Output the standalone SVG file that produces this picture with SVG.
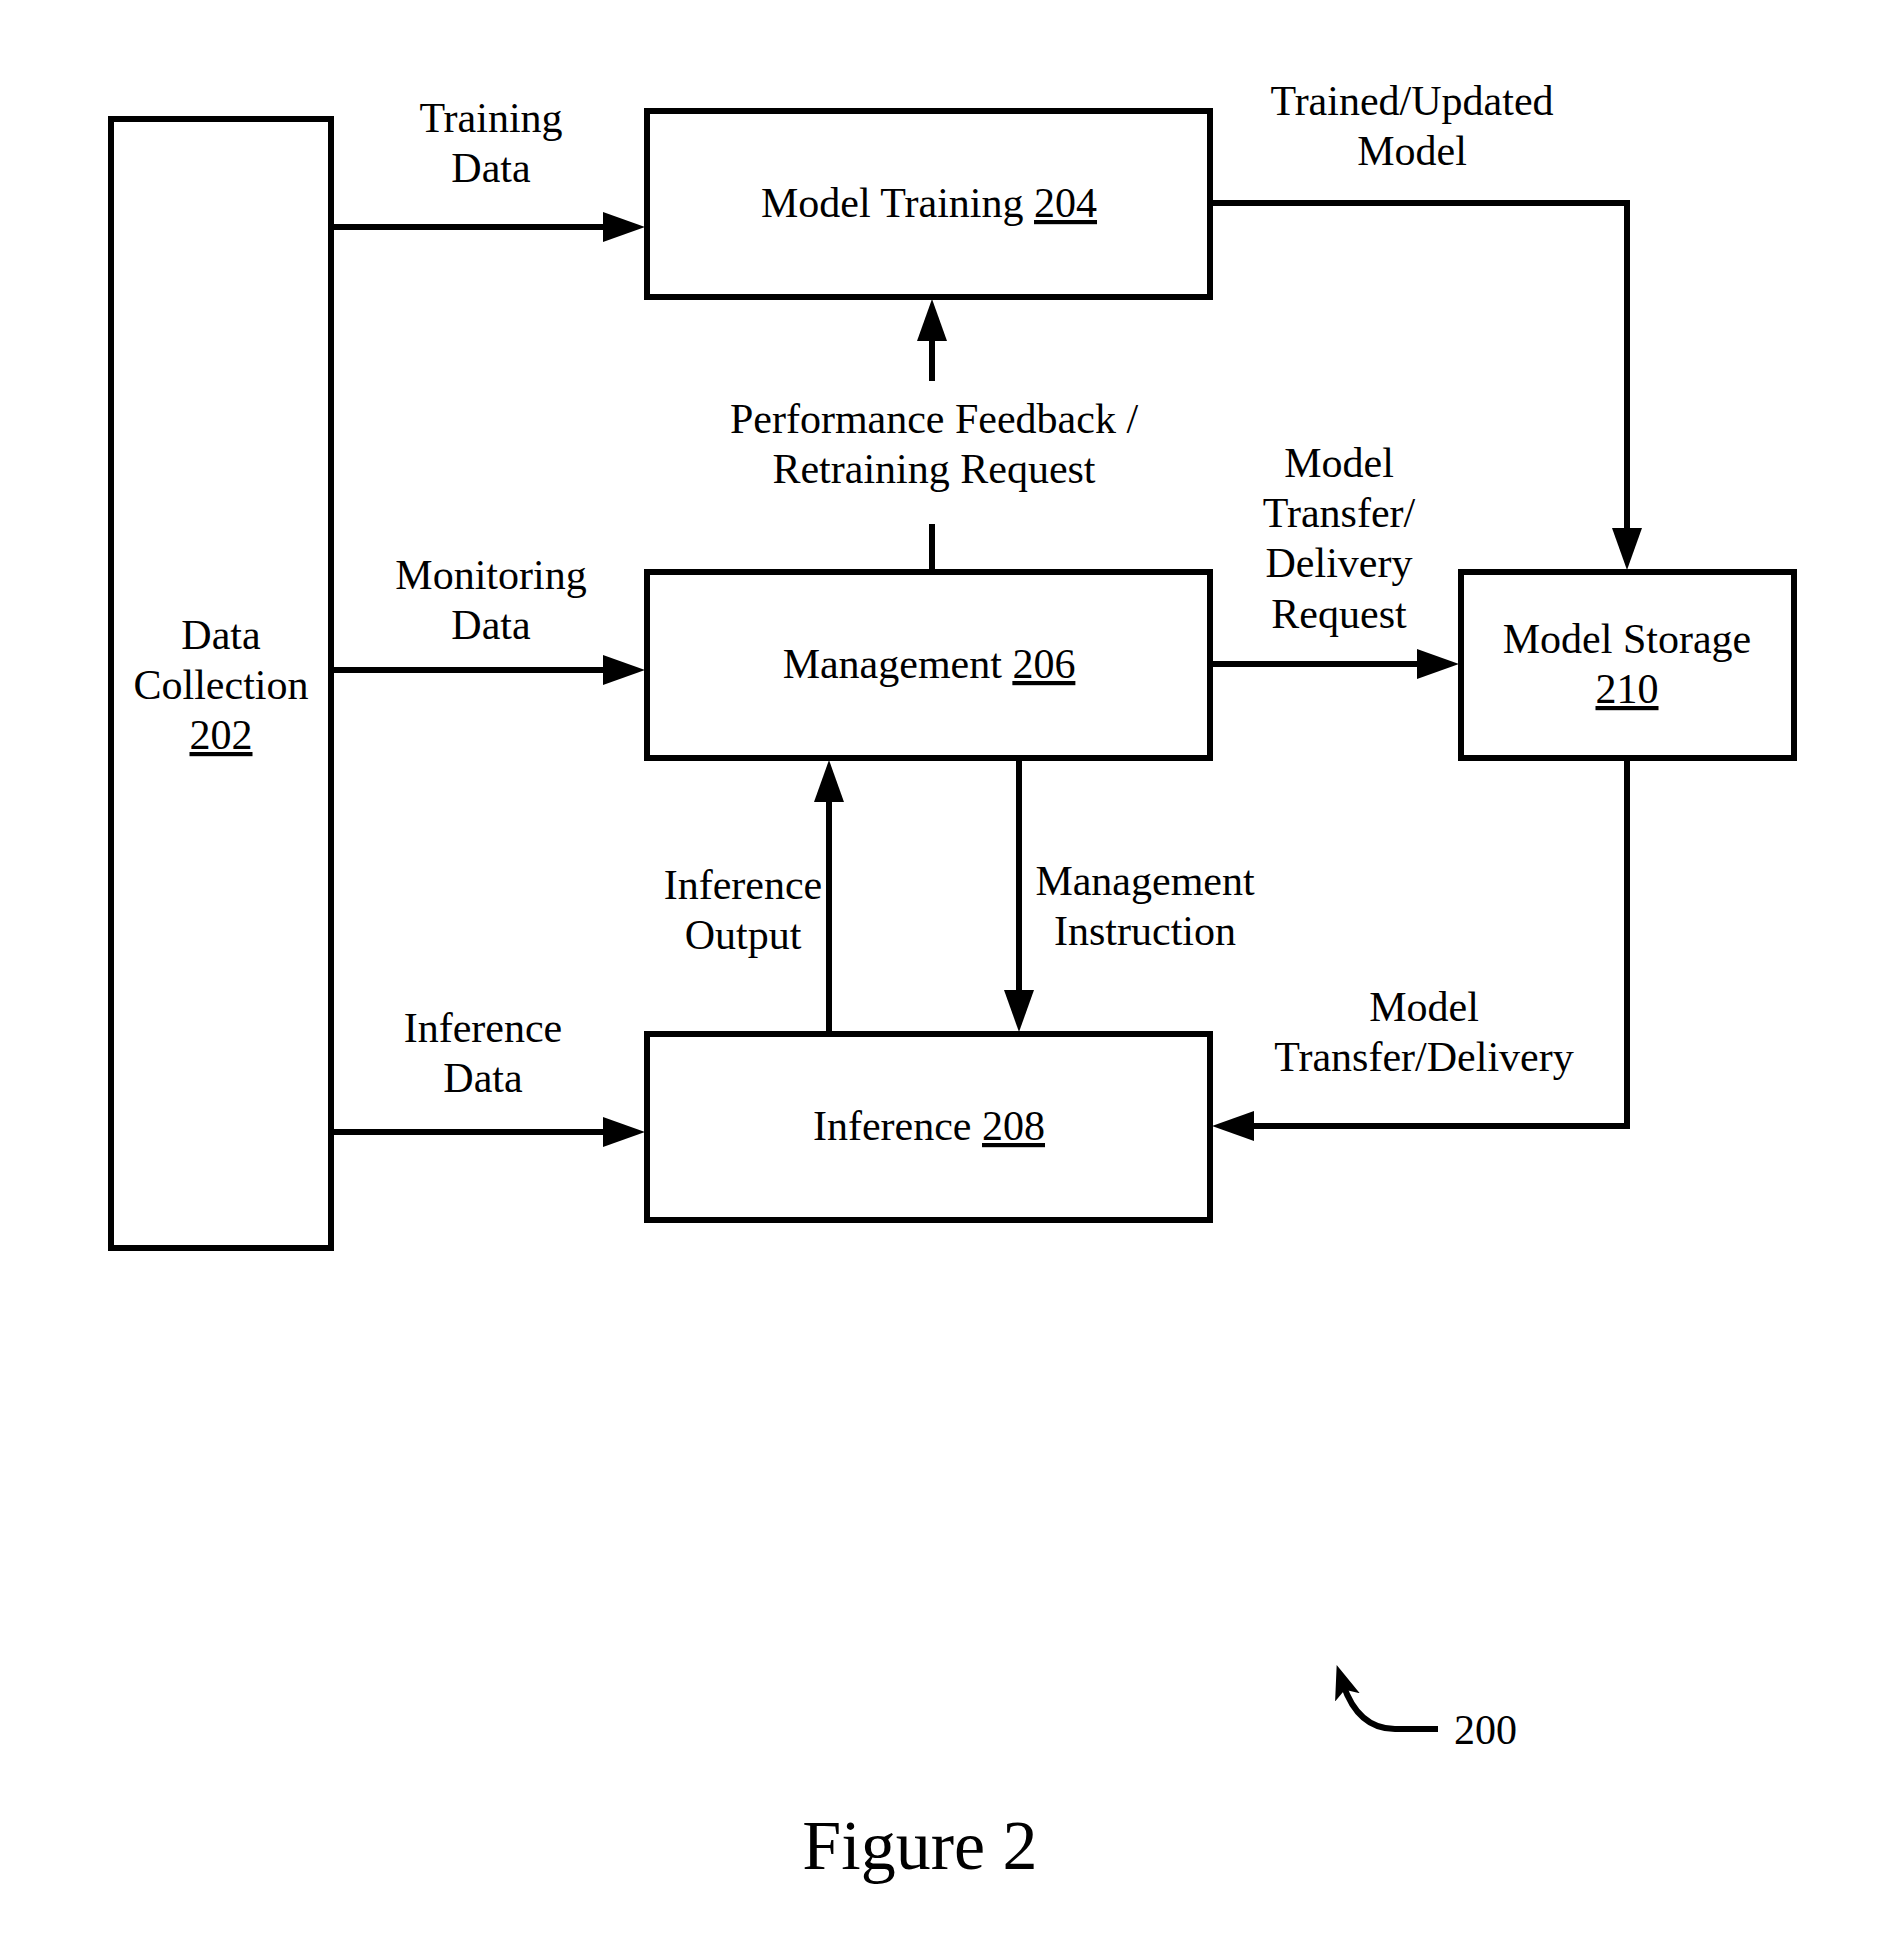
<svg xmlns="http://www.w3.org/2000/svg" width="1885" height="1958" viewBox="0 0 1885 1958">
<style>
.box{fill:#fff;stroke:#000;stroke-width:6}
.ln{fill:none;stroke:#000;stroke-width:6}
text{font-family:"Liberation Serif","Times New Roman",serif;font-size:42px;fill:#000;text-anchor:middle}
.u{text-decoration:underline}
</style>
<defs>
<marker id="ah" markerUnits="userSpaceOnUse" markerWidth="42" markerHeight="30" refX="22" refY="15" orient="auto">
<path d="M0,0 L42,15 L0,30 z" fill="#000"/>
</marker>
<marker id="ah2" markerUnits="userSpaceOnUse" markerWidth="34" markerHeight="30" refX="14" refY="15" orient="auto">
<path d="M0,2 L34,15 L0,28 L8,15 z" fill="#000"/>
</marker>
</defs>
<g id="connectors">
<path class="ln" d="M331,227 L625,227" marker-end="url(#ah)"/>
<path class="ln" d="M331,670 L625,670" marker-end="url(#ah)"/>
<path class="ln" d="M327,1132 L625,1132" marker-end="url(#ah)"/>
<path class="ln" d="M1210,203 L1627,203 L1627,550" marker-end="url(#ah)"/>
<path class="ln" d="M932,572 L932,524"/>
<path class="ln" d="M932,381 L932,319" marker-end="url(#ah)"/>
<path class="ln" d="M1210,664 L1439,664" marker-end="url(#ah)"/>
<path class="ln" d="M829,1040 L829,780" marker-end="url(#ah)"/>
<path class="ln" d="M1019,758 L1019,1012" marker-end="url(#ah)"/>
<path class="ln" d="M1627,758 L1627,1126 L1232,1126" marker-end="url(#ah)"/>
<g id="label-training-data"><text x="491" y="132">Training</text><text x="491" y="182">Data</text></g>
<g id="label-monitoring-data"><text x="491" y="589">Monitoring</text><text x="491" y="639">Data</text></g>
<g id="label-inference-data"><text x="483" y="1042">Inference</text><text x="483" y="1092">Data</text></g>
<g id="label-trained"><text x="1412" y="115">Trained/Updated</text><text x="1412" y="165">Model</text></g>
<g id="label-feedback"><text x="934" y="433">Performance Feedback /</text><text x="934" y="483">Retraining Request</text></g>
<g id="label-request"><text x="1339" y="477">Model</text><text x="1339" y="527">Transfer/</text><text x="1339" y="577">Delivery</text><text x="1339" y="628">Request</text></g>
<g id="label-inference-output"><text x="743" y="899">Inference</text><text x="743" y="949">Output</text></g>
<g id="label-mgmt-instr"><text x="1145" y="895">Management</text><text x="1145" y="945">Instruction</text></g>
<g id="label-delivery"><text x="1424" y="1021">Model</text><text x="1424" y="1071">Transfer/Delivery</text></g>
</g>
<g id="node-202"><rect class="box" x="111" y="119" width="220" height="1129"/>
<text x="221" y="649">Data</text><text x="221" y="699">Collection</text><text x="221" y="749" class="u">202</text></g>
<g id="node-204"><rect class="box" x="647" y="111" width="563" height="186"/>
<text x="929" y="217">Model Training <tspan class="u">204</tspan></text></g>
<g id="node-206"><rect class="box" x="647" y="572" width="563" height="186"/>
<text x="929" y="678">Management <tspan class="u">206</tspan></text></g>
<g id="node-208"><rect class="box" x="647" y="1034" width="563" height="186"/>
<text x="929" y="1140">Inference <tspan class="u">208</tspan></text></g>
<g id="node-210"><rect class="box" x="1461" y="572" width="333" height="186"/>
<text x="1627" y="653">Model Storage</text><text x="1627" y="703" class="u">210</text></g>
<g id="ref-200">
<path class="ln" d="M1438,1729 L1395,1729 Q1358,1729 1343,1684" marker-end="url(#ah2)"/>
<text x="1454" y="1744" style="text-anchor:start">200</text>
</g>
<text x="920" y="1869" style="font-size:70px">Figure 2</text>
</svg>
